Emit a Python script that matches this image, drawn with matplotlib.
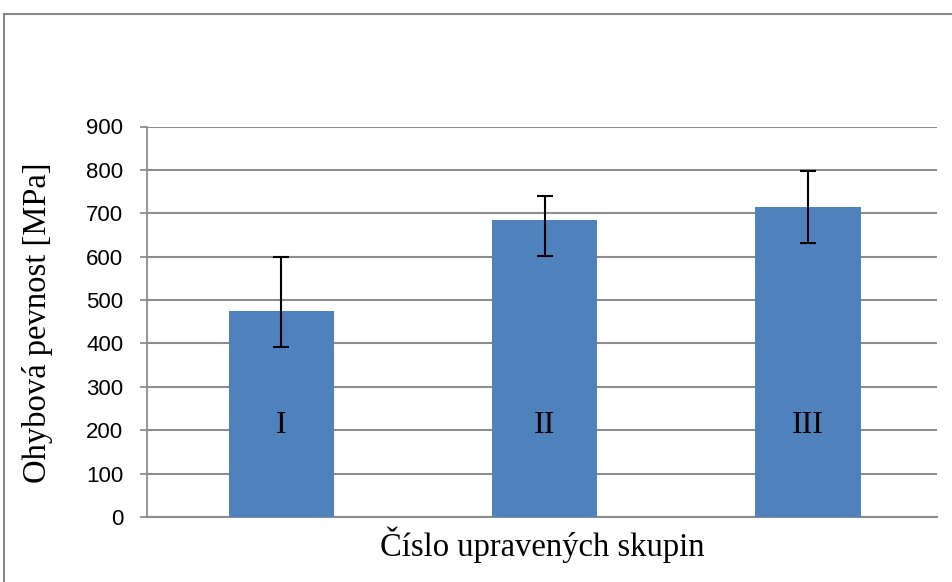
import numpy as np
import matplotlib.pyplot as plt
from matplotlib.patches import Rectangle

groups = ['I', 'II', 'III']
values = [475, 685, 714]
err_low = [83, 83, 83]
err_high = [124, 54, 84]
yticks = [0, 100, 200, 300, 400, 500, 600, 700, 800, 900]

W, H = 953, 582
fig = plt.figure(figsize=(W / 100, H / 100), dpi=100)
ax = fig.add_axes([147 / W, 1 - 517 / H, 790 / W, 390.5 / H])

# outer chart frame (runs off right and bottom)
fig.patches.append(Rectangle((4 / W, -0.1), 1.2, 1 - 14 / H + 0.1,
                             transform=fig.transFigure, fill=False,
                             edgecolor='#878787', lw=1.5))

x = np.arange(len(groups))
ax.bar(x, values, width=0.4, color='#4F81BD', zorder=3)
ax.errorbar(x, values, yerr=[err_low, err_high], fmt='none', ecolor='black',
            elinewidth=1.5, capsize=5.5, capthick=1.5, zorder=4)

for xi, g in zip(x, groups):
    ax.text(xi, 194, g, ha='center', va='baseline', fontsize=23,
            family='Liberation Serif', zorder=5)

ax.set_xlim(-0.51, 2.49)
ax.set_ylim(0, 900)
ax.set_yticks(yticks)
ax.set_xticks([])
ax.grid(axis='y', color='#8c8c8c', lw=1.5, zorder=0)
for s in ['top', 'right']:
    ax.spines[s].set_visible(False)
ax.spines['left'].set_color('#8c8c8c')
ax.spines['bottom'].set_color('#8c8c8c')
ax.spines['left'].set_linewidth(1.3)
ax.spines['bottom'].set_linewidth(1.5)
ax.tick_params(axis='y', length=5, width=1.3, color='#8c8c8c', pad=12,
               labelsize=16)
for lab in ax.get_yticklabels():
    lab.set_family('Liberation Sans')

ax.text(-0.139, 0.497, 'Ohybová pevnost [MPa]', transform=ax.transAxes,
        rotation=90, ha='center', va='center', fontsize=23.5,
        family='Liberation Serif')
ax.text(0.5, -0.072, 'Číslo upravených skupin', transform=ax.transAxes,
        ha='center', va='center', fontsize=23.5, family='Liberation Serif')

fig.savefig('out.png', dpi=100)
